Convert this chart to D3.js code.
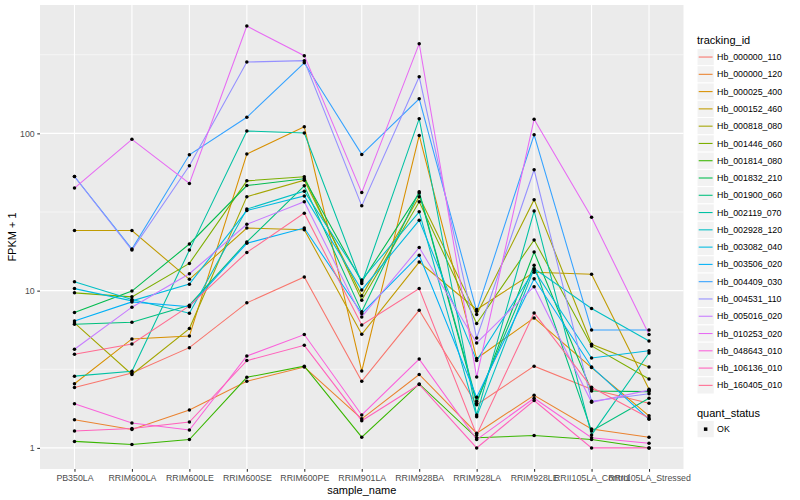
<!DOCTYPE html>
<html>
<head>
<meta charset="utf-8">
<script src="https://cdn.jsdelivr.net/npm/d3@7"></script>
<style>
  body { margin: 0; background: #fff; }
  text { font-family: "Liberation Sans", Arial, sans-serif; }
</style>
</head>
<body>
<svg id="chart" width="800" height="500"></svg>
<script>
// sample names along x
const samples = ['PB350LA', 'RRIM600LA', 'RRIM600LE', 'RRIM600SE', 'RRIM600PE', 'RRIM901LA',
  'RRIM928BA', 'RRIM928LA', 'RRIM928LE', 'RRII105LA_Control', 'RRII105LA_Stressed'];

const trackingIds = ['Hb_000000_110', 'Hb_000000_120', 'Hb_000025_400', 'Hb_000152_460', 'Hb_000818_080',
  'Hb_001446_060', 'Hb_001814_080', 'Hb_001832_210', 'Hb_001900_060', 'Hb_002119_070',
  'Hb_002928_120', 'Hb_003082_040', 'Hb_003506_020', 'Hb_004409_030', 'Hb_004531_110',
  'Hb_005016_020', 'Hb_010253_020', 'Hb_048643_010', 'Hb_106136_010', 'Hb_160405_010'];

// FPKM + 1, one array per gene, in sample order
const hb_000000_110 = [2.42, 2.99, 4.34, 8.36, 12.2, 2.65, 7.5, 1.88, 3.31, 2.36, 1.92];
const hb_000000_120 = [1.51, 1.31, 1.74, 2.65, 3.27, 1.53, 2.93, 1.24, 2.16, 1.32, 1.17];
const hb_000025_400 = [2.56, 4.93, 5.15, 73.9, 110, 3.08, 97, 3.7, 6.71, 3.24, 1.6];
const hb_000152_460 = [24.1, 24.1, 11.8, 25, 24.4, 5.28, 15.2, 7.59, 13.1, 12.7, 2.36];
const hb_000818_080 = [6.23, 2.93, 5.74, 39.6, 50.4, 9.27, 39.6, 7.05, 37.9, 4.56, 3.27];
const hb_001446_060 = [9.68, 9.13, 14.9, 49.9, 53, 8.7, 36.7, 6.18, 21, 4.45, 2.74];
const hb_001814_080 = [1.1, 1.05, 1.13, 2.81, 3.31, 1.17, 2.55, 1.16, 1.2, 1.13, 1.0];
const hb_001832_210 = [7.26, 9.93, 19.8, 46.6, 51.4, 11.4, 41.7, 1.92, 17.6, 2.3, 2.28];
const hb_001900_060 = [6.11, 6.3, 8.08, 20.4, 46.4, 7.33, 42.5, 1.98, 14.5, 1.28, 2.07];
const hb_002119_070 = [2.86, 3.07, 18.1, 103.6, 100.6, 11.1, 124, 1.62, 32.1, 1.21, 4.01];
const hb_002928_120 = [11.4, 8.79, 7.19, 33, 42.9, 11.7, 31.7, 1.58, 13.8, 7.7, 4.78];
const hb_003082_040 = [10.3, 8.61, 11.0, 32.3, 40, 10.1, 28, 3.59, 13.5, 3.73, 4.15];
const hb_003506_020 = [6.42, 8.48, 7.9, 20, 25, 7.16, 16.8, 2.1, 11.9, 3.27, 1.52];
const hb_004409_030 = [53.2, 18.4, 73.1, 126.5, 281, 73.5, 166, 7.4, 98, 5.62, 5.62];
const hb_004531_110 = [53.2, 18.1, 62.2, 284, 290, 34.6, 229, 5.0, 58.7, 1.98, 2.21];
const hb_005016_020 = [4.24, 7.85, 12.8, 26.4, 36.8, 6.81, 18.8, 4.65, 10.6, 1.95, 2.33];
const hb_010253_020 = [44.9, 91.6, 48, 481, 312, 42, 372, 2.82, 123, 29.3, 5.26];
const hb_048643_010 = [1.91, 1.44, 1.3, 3.84, 5.26, 1.62, 3.67, 1.13, 2.07, 1.16, 1.07];
const hb_106136_010 = [1.28, 1.33, 1.46, 3.59, 4.49, 1.49, 2.53, 1.0, 2.0, 1.0, 1.0];
const hb_160405_010 = [3.94, 4.58, 8.0, 17.5, 31.1, 6.05, 10.3, 1.21, 7.22, 2.43, 1.55];

const fpkmByGene = [hb_000000_110, hb_000000_120, hb_000025_400, hb_000152_460, hb_000818_080,
  hb_001446_060, hb_001814_080, hb_001832_210, hb_001900_060, hb_002119_070,
  hb_002928_120, hb_003082_040, hb_003506_020, hb_004409_030, hb_004531_110,
  hb_005016_020, hb_010253_020, hb_048643_010, hb_106136_010, hb_160405_010];

const quantStatus = ['OK'];
const yTicks = [1, 10, 100];
const yMinor = [Math.pow(10, 0.5), Math.pow(10, 1.5), Math.pow(10, 2.5)];

// ggplot default hue palette, 20 levels
const hueColors = ['#F8766D', '#EA8331', '#D89000', '#C09B00', '#A3A500', '#7CAE00', '#39B600',
  '#00BB4E', '#00BF7D', '#00C1A3', '#00BFC4', '#00BAE0', '#00B0F6', '#35A2FF', '#9590FF',
  '#C77CFF', '#E76BF3', '#FA62DB', '#FF62BC', '#FF6C91'];

const panel = { left: 40, right: 683.5, top: 5, bottom: 469 };

const svg = d3.select('#chart');

const series = trackingIds.map((id, i) => ({
  id,
  values: fpkmByGene[i].map((v, j) => ({ sample: samples[j], v })),
}));

const x = d3.scalePoint()
  .domain(samples)
  .range([panel.left, panel.right])
  .padding(0.6);

// log scale with ggplot's 5% expansion in log space
const allVals = fpkmByGene.flat();
const lo = Math.log10(d3.min(allVals));
const hi = Math.log10(d3.max(allVals));
const pad = (hi - lo) * 0.05;
const y = d3.scaleLog()
  .domain([Math.pow(10, lo - pad), Math.pow(10, hi + pad)])
  .range([panel.bottom, panel.top]);

const color = d3.scaleOrdinal()
  .domain(trackingIds)
  .range(hueColors);

// panel background and grid
svg.append('rect')
  .attr('x', panel.left)
  .attr('y', panel.top)
  .attr('width', panel.right - panel.left)
  .attr('height', panel.bottom - panel.top)
  .attr('fill', '#EBEBEB');

const grid = svg.append('g');
grid.selectAll('.minor')
  .data(yMinor)
  .enter().append('line')
    .attr('x1', panel.left)
    .attr('x2', panel.right)
    .attr('y1', d => y(d))
    .attr('y2', d => y(d))
    .attr('stroke', '#fff')
    .attr('stroke-width', 0.55);
grid.selectAll('.major-y')
  .data(yTicks)
  .enter().append('line')
    .attr('x1', panel.left)
    .attr('x2', panel.right)
    .attr('y1', d => y(d))
    .attr('y2', d => y(d))
    .attr('stroke', '#fff')
    .attr('stroke-width', 1.1);
grid.selectAll('.major-x')
  .data(samples)
  .enter().append('line')
    .attr('x1', d => x(d))
    .attr('x2', d => x(d))
    .attr('y1', panel.top)
    .attr('y2', panel.bottom)
    .attr('stroke', '#fff')
    .attr('stroke-width', 1.1);

// lines
const line = d3.line()
  .x(d => x(d.sample))
  .y(d => y(d.v));

svg.append('g')
  .selectAll('path')
  .data(series)
  .enter().append('path')
    .attr('d', d => line(d.values))
    .attr('fill', 'none')
    .attr('stroke', d => color(d.id))
    .attr('stroke-width', 1.07);

// points
svg.append('g')
  .selectAll('g')
  .data(series)
  .enter().append('g')
  .selectAll('circle')
  .data(d => d.values)
  .enter().append('circle')
    .attr('cx', d => x(d.sample))
    .attr('cy', d => y(d.v))
    .attr('r', 1.75)
    .attr('fill', '#000');

// axes
const xAxis = svg.append('g')
  .attr('transform', `translate(0,${panel.bottom})`)
  .call(d3.axisBottom(x).tickSize(2.75).tickPadding(3));
const yAxis = svg.append('g')
  .attr('transform', `translate(${panel.left},0)`)
  .call(d3.axisLeft(y).tickValues(yTicks).tickFormat(d3.format('d')).tickSize(2.75).tickPadding(2.5));

[xAxis, yAxis].forEach(a => {
  a.select('.domain').remove();
  a.selectAll('line').attr('stroke', '#333333').attr('stroke-width', 1.07);
  a.selectAll('text')
    .attr('fill', '#4D4D4D')
    .style('font-size', '8.8px');
});

svg.append('text')
  .attr('x', (panel.left + panel.right) / 2)
  .attr('y', 494)
  .attr('text-anchor', 'middle')
  .style('font-size', '11px')
  .text('sample_name');

svg.append('text')
  .attr('transform', `translate(16,${(panel.top + panel.bottom) / 2}) rotate(-90)`)
  .attr('text-anchor', 'middle')
  .style('font-size', '11px')
  .text('FPKM + 1');

// legend: tracking_id
const legendX = 697;
const keySize = 17.28;
const legend = svg.append('g');

legend.append('text')
  .attr('x', legendX)
  .attr('y', 44)
  .style('font-size', '11px')
  .text('tracking_id');

const keys = legend.selectAll('.key')
  .data(trackingIds)
  .enter().append('g')
    .attr('transform', (d, i) => `translate(${legendX},${48.4 + i * keySize})`);

keys.append('rect')
  .attr('width', keySize)
  .attr('height', keySize)
  .attr('fill', '#F2F2F2')
  .attr('stroke', '#fff')
  .attr('stroke-width', 1);

keys.append('line')
  .attr('x1', 1.7)
  .attr('x2', keySize - 1.7)
  .attr('y1', keySize / 2)
  .attr('y2', keySize / 2)
  .attr('stroke', d => color(d))
  .attr('stroke-width', 1.07);

keys.append('text')
  .attr('x', keySize + 2.8)
  .attr('y', keySize / 2 + 3.1)
  .style('font-size', '8.8px')
  .text(d => d);

// legend: quant_status
legend.append('text')
  .attr('x', legendX)
  .attr('y', 417)
  .style('font-size', '11px')
  .text('quant_status');

const qKeys = legend.selectAll('.qkey')
  .data(quantStatus)
  .enter().append('g')
    .attr('transform', (d, i) => `translate(${legendX},${420.5 + i * keySize})`);

qKeys.append('rect')
  .attr('width', keySize)
  .attr('height', keySize)
  .attr('fill', '#F2F2F2')
  .attr('stroke', '#fff')
  .attr('stroke-width', 1);

qKeys.append('rect')
  .attr('x', keySize / 2 - 1.75)
  .attr('y', keySize / 2 - 1.75)
  .attr('width', 3.5)
  .attr('height', 3.5)
  .attr('fill', '#000');

qKeys.append('text')
  .attr('x', keySize + 2.8)
  .attr('y', keySize / 2 + 3.1)
  .style('font-size', '8.8px')
  .text(d => d);
</script>
</body>
</html>
